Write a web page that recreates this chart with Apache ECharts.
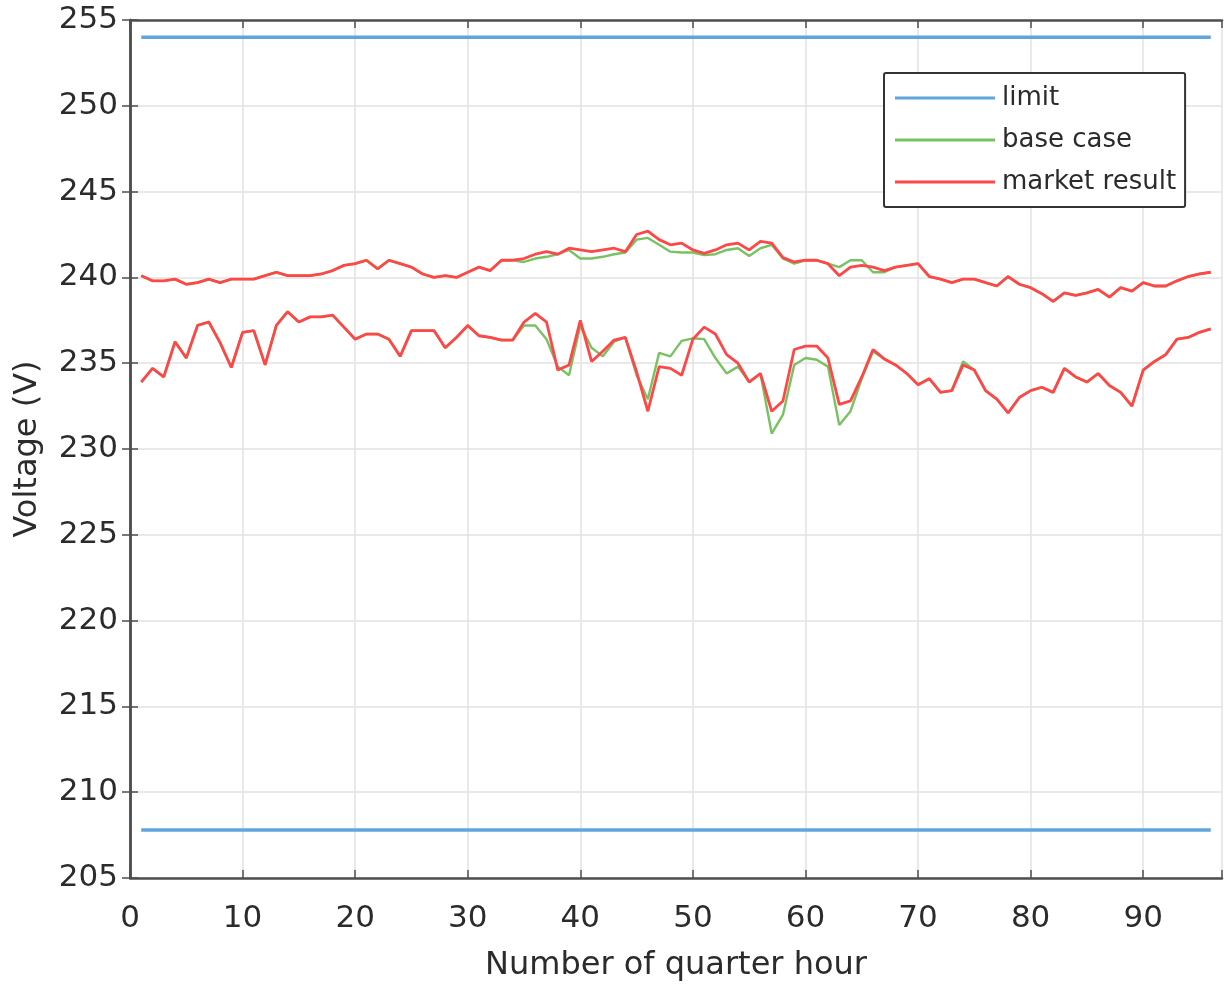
<!DOCTYPE html>
<html>
<head>
<meta charset="utf-8">
<title>Voltage per quarter hour</title>
<script src="https://cdn.jsdelivr.net/npm/echarts@6/dist/echarts.min.js"></script>
<style>
  html, body { margin: 0; padding: 0; background: #ffffff; }
  #chart { width: 1225px; height: 985px; }
</style>
</head>
<body>
<div id="chart"></div>
<script>
// Quarter-hour index (1..96) for one day
const quarters = Array.from({ length: 96 }, (_, k) => k + 1);

// Voltage limits (V)
const limitUpper = 254;
const limitLower = 207.8;

// Market result, node with the higher voltage profile
const marketUpper = [
  240.1, 239.8, 239.8, 239.9, 239.6, 239.7, 239.9, 239.7, 239.9, 239.9,
  239.9, 240.1, 240.3, 240.1, 240.1, 240.1, 240.2, 240.4, 240.7, 240.8,
  241.0, 240.5, 241.0, 240.8, 240.6, 240.2, 240.0, 240.1, 240.0, 240.3,
  240.6, 240.4, 241.0, 241.0, 241.1, 241.35, 241.5, 241.35, 241.7, 241.6,
  241.5, 241.6, 241.7, 241.5, 242.5, 242.7, 242.2, 241.9, 242.0, 241.6,
  241.4, 241.6, 241.9, 242.0, 241.6, 242.1, 242.0, 241.15, 240.9, 241.0,
  241.0, 240.8, 240.1, 240.6, 240.7, 240.6, 240.4, 240.6, 240.7, 240.8,
  240.05, 239.9, 239.7, 239.9, 239.9, 239.7, 239.5, 240.05, 239.6, 239.4,
  239.05, 238.6, 239.1, 238.95, 239.1, 239.3, 238.85, 239.4, 239.2, 239.7,
  239.5, 239.5, 239.8, 240.05, 240.2, 240.3
];

// Market result, node with the lower voltage profile
const marketLower = [
  233.9, 234.7, 234.2, 236.25, 235.3, 237.2, 237.4, 236.2, 234.75, 236.8,
  236.9, 234.9, 237.2, 238.0, 237.4, 237.7, 237.7, 237.8, 237.1, 236.4,
  236.7, 236.7, 236.4, 235.4, 236.9, 236.9, 236.9, 235.9, 236.5, 237.2,
  236.6, 236.5, 236.35, 236.35, 237.4, 237.9, 237.4, 234.6, 234.9, 237.5,
  235.1, 235.7, 236.35, 236.5, 234.5, 232.2, 234.8, 234.7, 234.3, 236.4,
  237.1, 236.7, 235.5, 235.0, 233.9, 234.4, 232.2, 232.8, 235.8, 236.0,
  236.0, 235.3, 232.6, 232.8, 234.2, 235.8, 235.25, 234.9, 234.4, 233.75,
  234.1, 233.3, 233.4, 234.9, 234.6, 233.4, 232.9, 232.1, 233.0, 233.4,
  233.6, 233.3, 234.7, 234.2, 233.9, 234.4, 233.7, 233.3, 232.5, 234.6,
  235.1, 235.5, 236.4, 236.5, 236.8, 237.0
];

// Base case, node with the higher voltage profile
const baseUpper = [
  240.1, 239.8, 239.8, 239.9, 239.6, 239.7, 239.9, 239.7, 239.9, 239.9,
  239.9, 240.1, 240.3, 240.1, 240.1, 240.1, 240.2, 240.4, 240.7, 240.8,
  241.0, 240.5, 241.0, 240.8, 240.6, 240.2, 240.0, 240.1, 240.0, 240.3,
  240.6, 240.4, 241.0, 241.0, 240.9, 241.1, 241.2, 241.35, 241.6, 241.1,
  241.1, 241.2, 241.35, 241.45, 242.2, 242.3, 241.9, 241.5, 241.45, 241.45,
  241.3, 241.35, 241.6, 241.7, 241.25, 241.7, 241.9, 241.1, 240.8, 241.0,
  241.0, 240.8, 240.6, 241.0, 241.0, 240.3, 240.3, 240.6, 240.7, 240.8,
  240.05, 239.9, 239.7, 239.9, 239.9, 239.7, 239.5, 240.05, 239.6, 239.4,
  239.05, 238.6, 239.1, 238.95, 239.1, 239.3, 238.85, 239.4, 239.2, 239.7,
  239.5, 239.5, 239.8, 240.05, 240.2, 240.3
];

// Base case, node with the lower voltage profile
const baseLower = [
  233.9, 234.7, 234.2, 236.25, 235.3, 237.2, 237.4, 236.2, 234.75, 236.8,
  236.9, 234.9, 237.2, 238.0, 237.4, 237.7, 237.7, 237.8, 237.1, 236.4,
  236.7, 236.7, 236.4, 235.4, 236.9, 236.9, 236.9, 235.9, 236.5, 237.2,
  236.6, 236.5, 236.35, 236.35, 237.2, 237.2, 236.4, 234.8, 234.3, 237.2,
  235.9, 235.4, 236.25, 236.5, 234.3, 232.9, 235.6, 235.4, 236.3, 236.45,
  236.4, 235.3, 234.4, 234.8, 233.9, 234.4, 230.9, 232.0, 234.9, 235.3,
  235.2, 234.8, 231.4, 232.2, 234.1, 235.7, 235.25, 234.9, 234.4, 233.75,
  234.1, 233.3, 233.4, 235.1, 234.6, 233.4, 232.9, 232.1, 233.0, 233.4,
  233.6, 233.3, 234.7, 234.2, 233.9, 234.4, 233.7, 233.3, 232.5, 234.6,
  235.1, 235.5, 236.4, 236.5, 236.8, 237.0
];

// Axis ticks
const xTicks = [0, 10, 20, 30, 40, 50, 60, 70, 80, 90];
const yTicks = [205, 210, 215, 220, 225, 230, 235, 240, 245, 250, 255];

const COLOR_LIMIT = '#5fa6dc';
const COLOR_BASE = '#78c262';
const COLOR_MARKET = '#ff4747';
const AXIS_COLOR = '#4f4f4f';
const GRID_COLOR = '#e2e2e2';
const TEXT_COLOR = '#2b2b2b';
const FONT = '"DejaVu Sans", Verdana, sans-serif';

const pairs = (vals) => quarters.map((q, k) => [q, vals[k]]);
const flat = (v) => [[quarters[0], v], [quarters[quarters.length - 1], v]];

const lineSeries = (name, data, color, width) => ({
  name,
  type: 'line',
  data,
  symbol: 'none',
  smooth: false,
  silent: true,
  lineStyle: { color, width },
  itemStyle: { color },
  emphasis: { disabled: true },
  animation: false
});

const tickStyle = { show: true, inside: true, length: 8, lineStyle: { color: AXIS_COLOR, width: 1.5 } };
const lineStyleAxis = { show: true, lineStyle: { color: AXIS_COLOR, width: 2.5 } };

// Top and right axes only close the plot box
const boxAxis = {
  axisLine: lineStyleAxis,
  axisTick: tickStyle,
  axisLabel: { show: false },
  splitLine: { show: false }
};

const chart = echarts.init(document.getElementById('chart'), null, { renderer: 'canvas' });

chart.setOption({
  backgroundColor: '#ffffff',
  animation: false,
  grid: { left: 130, right: 3, top: 20, bottom: 107, containLabel: false, outerBoundsMode: 'none' },
  legend: {
    orient: 'vertical',
    left: 884,
    top: 73,
    padding: [10, 9, 10, 11],
    itemWidth: 100,
    itemHeight: 3,
    itemGap: 12,
    icon: 'rect',
    backgroundColor: '#ffffff',
    borderColor: '#333333',
    borderWidth: 2,
    borderRadius: 2,
    data: ['limit', 'base case', 'market result'],
    textStyle: { fontFamily: FONT, fontSize: 26, lineHeight: 30, color: TEXT_COLOR, padding: [0, 0, 0, 2] }
  },
  xAxis: [
    {
      type: 'value',
      min: 0,
      max: 97,
      interval: 10,
      name: 'Number of quarter hour',
      nameLocation: 'middle',
      nameGap: 72,
      nameTextStyle: { fontFamily: FONT, fontSize: 32, color: TEXT_COLOR },
      axisLine: lineStyleAxis,
      axisTick: tickStyle,
      axisLabel: {
        margin: 25,
        fontFamily: FONT,
        fontSize: 31,
        color: TEXT_COLOR,
        formatter: (v) => (xTicks.includes(v) ? String(v) : '')
      },
      splitLine: { show: true, lineStyle: { color: GRID_COLOR, width: 1.5 } }
    },
    Object.assign({ type: 'value', min: 0, max: 97, interval: 10, position: 'top' }, boxAxis)
  ],
  yAxis: [
    {
      type: 'value',
      min: yTicks[0],
      max: yTicks[yTicks.length - 1],
      interval: 5,
      name: 'Voltage (V)',
      nameLocation: 'middle',
      nameGap: 86,
      nameRotate: 90,
      nameTextStyle: { fontFamily: FONT, fontSize: 32, color: TEXT_COLOR },
      axisLine: lineStyleAxis,
      axisTick: tickStyle,
      axisLabel: { margin: 12, fontFamily: FONT, fontSize: 31, color: TEXT_COLOR },
      splitLine: { show: true, lineStyle: { color: GRID_COLOR, width: 1.5 } }
    },
    Object.assign({ type: 'value', min: yTicks[0], max: yTicks[yTicks.length - 1], interval: 5, position: 'right' }, boxAxis)
  ],
  series: [
    lineSeries('limit', flat(limitUpper), COLOR_LIMIT, 3.5),
    lineSeries('limit', flat(limitLower), COLOR_LIMIT, 3.5),
    lineSeries('base case', pairs(baseUpper), COLOR_BASE, 2.4),
    lineSeries('base case', pairs(baseLower), COLOR_BASE, 2.4),
    lineSeries('market result', pairs(marketUpper), COLOR_MARKET, 2.8),
    lineSeries('market result', pairs(marketLower), COLOR_MARKET, 2.8)
  ]
});
</script>
</body>
</html>
